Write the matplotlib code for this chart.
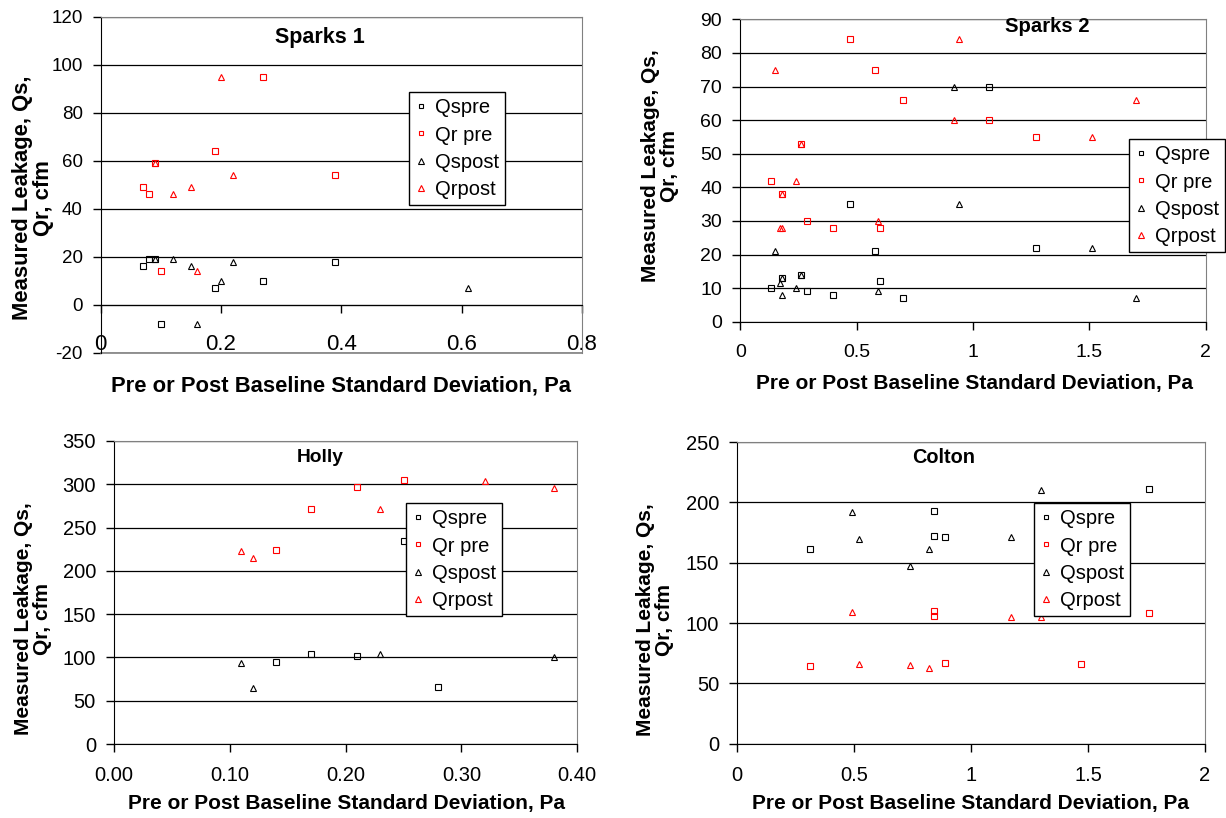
import numpy as np
import matplotlib
matplotlib.use("Agg")
import matplotlib.pyplot as plt

plt.rcParams['font.family'] = ['Liberation Sans', 'DejaVu Sans']
plt.rcParams['axes.unicode_minus'] = False

# Sparks 1
s1_qspre_x = [0.07, 0.08, 0.09, 0.10, 0.19, 0.27, 0.39]
s1_qspre_y = [16, 19, 19, -8, 7, 10, 18]
s1_qrpre_x = [0.07, 0.08, 0.09, 0.10, 0.19, 0.27, 0.39]
s1_qrpre_y = [49, 46, 59, 14, 64, 95, 54]
s1_qspost_x = [0.09, 0.12, 0.15, 0.16, 0.20, 0.22, 0.61]
s1_qspost_y = [19, 19, 16, -8, 10, 18, 7]
s1_qrpost_x = [0.09, 0.12, 0.15, 0.16, 0.20, 0.22]
s1_qrpost_y = [59, 46, 49, 14, 95, 54]

# Sparks 2
s2_qspre_x = [0.13, 0.18, 0.26, 0.285, 0.40, 0.47, 0.58, 0.60, 0.70, 1.07, 1.27]
s2_qspre_y = [10, 13, 14, 9, 8, 35, 21, 12, 7, 70, 22]
s2_qrpre_x = [0.13, 0.18, 0.26, 0.285, 0.40, 0.47, 0.58, 0.60, 0.70, 1.07, 1.27]
s2_qrpre_y = [42, 38, 53, 30, 28, 84, 75, 28, 66, 60, 55]
s2_qspost_x = [0.15, 0.17, 0.18, 0.178, 0.24, 0.26, 0.59, 0.92, 0.94, 1.51, 1.70]
s2_qspost_y = [21, 11.6, 8, 13, 10, 14, 9, 70, 35, 22, 7]
s2_qrpost_x = [0.15, 0.17, 0.18, 0.178, 0.24, 0.26, 0.59, 0.92, 0.94, 1.51, 1.70]
s2_qrpost_y = [75, 28, 28, 38, 42, 53, 30, 60, 84, 55, 66]

# Holly
h_qspre_x = [0.14, 0.17, 0.21, 0.25, 0.28]
h_qspre_y = [95, 104, 102, 234, 66]
h_qrpre_x = [0.14, 0.17, 0.21, 0.25]
h_qrpre_y = [224, 272, 297, 305]
h_qspost_x = [0.11, 0.12, 0.23, 0.38]
h_qspost_y = [94, 65, 104, 101]
h_qrpost_x = [0.11, 0.12, 0.23, 0.32, 0.38]
h_qrpost_y = [223, 215, 272, 304, 296]

# Colton
c_qspre_x = [0.31, 0.84, 0.84, 0.89, 1.76]
c_qspre_y = [161, 193, 172, 171, 211]
c_qrpre_x = [0.31, 0.84, 0.84, 0.89, 1.47, 1.76]
c_qrpre_y = [64, 110, 106, 67, 66, 108]
c_qspost_x = [0.49, 0.52, 0.74, 0.82, 1.17, 1.30]
c_qspost_y = [192, 170, 147, 161, 171, 210]
c_qrpost_x = [0.49, 0.52, 0.74, 0.82, 1.17, 1.30]
c_qrpost_y = [109, 66, 65, 63, 105, 105]

series_names = ["Qspre", "Qr pre", "Qspost", "Qrpost"]

s1_xticks = [0, 0.2, 0.4, 0.6, 0.8]
s1_xlabels = ["0", "0.2", "0.4", "0.6", "0.8"]
s1_yticks = [-20, 0, 20, 40, 60, 80, 100, 120]
s2_xticks = [0, 0.5, 1, 1.5, 2]
s2_xlabels = ["0", "0.5", "1", "1.5", "2"]
s2_yticks = [0, 10, 20, 30, 40, 50, 60, 70, 80, 90]
h_xticks = [0, 0.1, 0.2, 0.3, 0.4]
h_xlabels = ["0.00", "0.10", "0.20", "0.30", "0.40"]
h_yticks = [0, 50, 100, 150, 200, 250, 300, 350]
c_xticks = [0, 0.5, 1, 1.5, 2]
c_xlabels = ["0", "0.5", "1", "1.5", "2"]
c_yticks = [0, 50, 100, 150, 200, 250]

W, H = 1226, 818
XTITLE = "Pre or Post Baseline Standard Deviation, Pa"
YTITLE = "Measured Leakage, Qs,\nQr, cfm"


def caja(left, top, right, bottom):
    """Rectangulo en pixeles -> fraccion de figura"""
    return [left / W, 1 - bottom / H, (right - left) / W, (bottom - top) / H]


def panel(fig, box, datos, xticks, xlabels, yticks, titulo, pos_titulo, pos_ylabel, pos_xlabel,
          pos_leyenda, fs_x=14, fs_y=14, fs_titulo=15, fs_eje=15, x_en_cero=False, pad_x=10):
    ax = fig.add_axes(caja(*box))
    estilos = [("s", "black", 4.2), ("s", "red", 4.2), ("^", "black", 5.0), ("^", "red", 5.0)]
    for (xs, ys), (m, c, ms), nombre in zip(datos, estilos, series_names):
        ax.plot(xs, ys, ls="none", marker=m, mfc="none", mec=c, ms=ms, mew=0.8, label=nombre, zorder=3)

    ax.set_xlim(xticks[0], xticks[-1])
    ax.set_ylim(yticks[0], yticks[-1])
    ax.set_xticks(xticks)
    ax.set_xticklabels(xlabels)
    ax.set_yticks(yticks)
    ax.tick_params(axis="x", direction="out", length=6, width=1, pad=pad_x, labelsize=fs_x)
    ax.tick_params(axis="y", direction="out", length=6, width=1, pad=7, labelsize=fs_y)

    ax.set_axisbelow(True)
    ax.yaxis.grid(True, color="black", lw=0.9)
    for lado in ["top", "right"]:
        ax.spines[lado].set_color("#808080")
    for lado in ["left", "bottom"]:
        ax.spines[lado].set_color("black")
    if x_en_cero:
        # el eje x cruza en 0, el borde inferior queda gris
        ax.spines["bottom"].set_position(("data", 0))
        ax.axhline(yticks[0], color="#808080", lw=1.2, clip_on=False)

    fig.text(pos_titulo[0] / W, 1 - pos_titulo[1] / H, titulo, ha="center", va="center",
             fontsize=fs_titulo, fontweight="bold")
    fig.text(pos_ylabel[0] / W, 1 - pos_ylabel[1] / H, YTITLE, ha="center", va="center",
             rotation=90, multialignment="center", fontsize=fs_eje, fontweight="bold", linespacing=0.95)
    fig.text(pos_xlabel[0] / W, 1 - pos_xlabel[1] / H, XTITLE, ha="center", va="center",
             fontsize=fs_eje, fontweight="bold")

    ley = ax.legend(loc="upper left", bbox_to_anchor=(pos_leyenda[0] / W, 1 - pos_leyenda[1] / H),
                    bbox_transform=fig.transFigure, fontsize=14.5, frameon=True, fancybox=False,
                    framealpha=1, edgecolor="black", borderpad=0.3, labelspacing=0.42,
                    handlelength=0.6, handletextpad=0.4, markerscale=0.85, borderaxespad=0)
    ley.get_frame().set_linewidth(1)
    ley.set_zorder(5)
    return ax


fig = plt.figure(figsize=(W / 100, H / 100), dpi=100)

panel(fig, (100.7, 16.5, 582, 352.8),
      [(s1_qspre_x, s1_qspre_y), (s1_qrpre_x, s1_qrpre_y), (s1_qspost_x, s1_qspost_y), (s1_qrpost_x, s1_qrpost_y)],
      s1_xticks, s1_xlabels, s1_yticks, "Sparks 1", (320, 37), (33, 198), (341, 386), (409, 92),
      fs_x=16, fs_y=13.5, fs_titulo=15.5, fs_eje=15.8, x_en_cero=True, pad_x=15)

panel(fig, (740.3, 19.3, 1205.7, 321.7),
      [(s2_qspre_x, s2_qspre_y), (s2_qrpre_x, s2_qrpre_y), (s2_qspost_x, s2_qspost_y), (s2_qrpost_x, s2_qrpost_y)],
      s2_xticks, s2_xlabels, s2_yticks, "Sparks 2", (1047, 26), (660, 166), (974, 383), (1129, 139),
      fs_x=14, fs_y=14, fs_titulo=14.6, fs_eje=15)

panel(fig, (114, 441, 577.3, 744),
      [(h_qspre_x, h_qspre_y), (h_qrpre_x, h_qrpre_y), (h_qspost_x, h_qspost_y), (h_qrpost_x, h_qrpost_y)],
      h_xticks, h_xlabels, h_yticks, "Holly", (320, 458), (33, 619), (346, 803), (406, 503),
      fs_x=14.5, fs_y=14.5, fs_titulo=13.8, fs_eje=15)

panel(fig, (737.3, 442, 1205, 743.7),
      [(c_qspre_x, c_qspre_y), (c_qrpre_x, c_qrpre_y), (c_qspost_x, c_qspost_y), (c_qrpost_x, c_qrpost_y)],
      c_xticks, c_xlabels, c_yticks, "Colton", (944, 457), (655, 620), (971, 803), (1034, 503),
      fs_x=14.5, fs_y=14.5, fs_titulo=14.3, fs_eje=15)

fig.savefig("out.png", dpi=100)
plt.close(fig)
